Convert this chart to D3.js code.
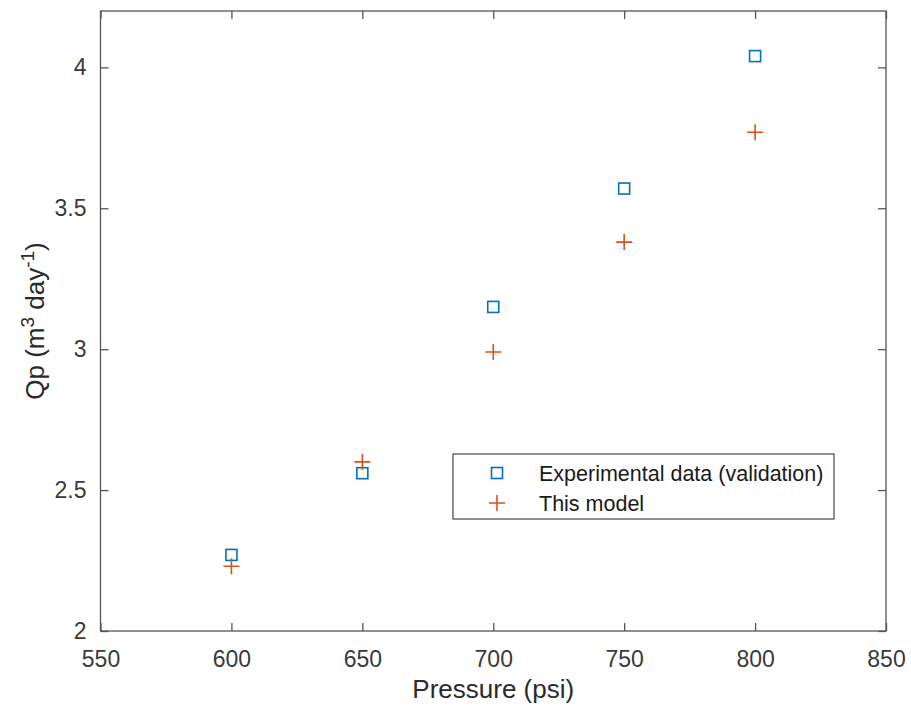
<!DOCTYPE html>
<html>
<head>
<meta charset="utf-8">
<script src="https://cdn.jsdelivr.net/npm/d3@7"></script>
<style>
  html, body { margin: 0; padding: 0; background: #fff; }
  svg { display: block; font-family: "Liberation Sans", Arial, sans-serif; }
</style>
</head>
<body>
<svg id="chart" width="911" height="706"></svg>
<script>
// Pressure (psi) vs. permeate flow Qp (m^3 day^-1)
const pressures = [600, 650, 700, 750, 800];
const experimental = [2.27, 2.56, 3.15, 3.57, 4.04];
const model = [2.23, 2.60, 2.99, 3.38, 3.77];
const xTicks = [550, 600, 650, 700, 750, 800, 850];
const yTicks = [2, 2.5, 3, 3.5, 4];
const seriesNames = ["Experimental data (validation)", "This model"];

const svg = d3.select("#chart");
const margin = { left: 100.5, right: 911 - 886, top: 11, bottom: 706 - 631 };
const W = 911, H = 706;

const x = d3.scaleLinear().domain([550, 850]).range([margin.left, W - margin.right]);
const y = d3.scaleLinear().domain([2, 4.2]).range([H - margin.bottom, margin.top]);

const axisColor = "#555";
const textColor = "#3a3a3a";
const blue = "#0072BD";
const orange = "#D95319";

// plot box
svg.append("rect")
  .attr("x", x(550)).attr("y", y(4.2))
  .attr("width", x(850) - x(550)).attr("height", y(2) - y(4.2))
  .attr("fill", "none").attr("stroke", axisColor).attr("stroke-width", 1.3);

const tickLen = 8;
const fmt = d => String(d);

// bottom axis, ticks pointing inward
svg.append("g").attr("transform", `translate(0,${y(2)})`)
  .call(d3.axisBottom(x).tickValues(xTicks).tickSize(-tickLen).tickPadding(tickLen + 12).tickFormat(fmt));
// top mirror ticks
svg.append("g").attr("transform", `translate(0,${y(4.2)})`)
  .call(d3.axisTop(x).tickValues(xTicks).tickSize(-tickLen).tickFormat(""));
// left axis
svg.append("g").attr("transform", `translate(${x(550)},0)`)
  .call(d3.axisLeft(y).tickValues(yTicks).tickSize(-tickLen).tickPadding(tickLen + 6).tickFormat(fmt));
// right mirror ticks
svg.append("g").attr("transform", `translate(${x(850)},0)`)
  .call(d3.axisRight(y).tickValues(yTicks).tickSize(-tickLen).tickFormat(""));

svg.selectAll(".domain").remove();
svg.selectAll(".tick line").attr("stroke", axisColor).attr("stroke-width", 1.3);
svg.selectAll(".tick text")
  .attr("fill", textColor)
  .style("font-size", "23px")
  .style("font-family", "'Liberation Sans', Arial, sans-serif");

// axis titles
svg.append("text")
  .attr("x", (x(550) + x(850)) / 2)
  .attr("y", 698)
  .attr("text-anchor", "middle")
  .attr("fill", "#2a2a2a")
  .style("font-size", "26px")
  .text("Pressure (psi)");

const yl = svg.append("text")
  .attr("transform", `translate(44,${(y(2) + y(4.2)) / 2}) rotate(-90)`)
  .attr("text-anchor", "middle")
  .attr("fill", "#2a2a2a")
  .style("font-size", "26px");
yl.append("tspan").text("Qp (m");
yl.append("tspan").attr("dy", -10).style("font-size", "19px").text("3");
yl.append("tspan").attr("dy", 10).text(" day");
yl.append("tspan").attr("dy", -10).style("font-size", "19px").text("-1");
yl.append("tspan").attr("dy", 10).text(")");

// markers
const sq = 11;
svg.append("g").selectAll("rect")
  .data(pressures.map((p, i) => [p, experimental[i]]))
  .join("rect")
  .attr("x", d => x(d[0]) - sq / 2)
  .attr("y", d => y(d[1]) - sq / 2)
  .attr("width", sq).attr("height", sq)
  .attr("fill", "none").attr("stroke", blue).attr("stroke-width", 1.6);

const pl = 8;
svg.append("g").selectAll("path")
  .data(pressures.map((p, i) => [p, model[i]]))
  .join("path")
  .attr("d", d => {
    const cx = x(d[0]), cy = y(d[1]);
    return `M${cx - pl},${cy}H${cx + pl}M${cx},${cy - pl}V${cy + pl}`;
  })
  .attr("fill", "none").attr("stroke", orange).attr("stroke-width", 1.6);

// legend
const lg = svg.append("g");
lg.append("rect")
  .attr("x", 453).attr("y", 454).attr("width", 381).attr("height", 65)
  .attr("fill", "#fff").attr("stroke", axisColor).attr("stroke-width", 1.3);
const rows = [473, 503];
lg.append("rect")
  .attr("x", 497 - sq / 2).attr("y", rows[0] - sq / 2)
  .attr("width", sq).attr("height", sq)
  .attr("fill", "none").attr("stroke", blue).attr("stroke-width", 1.6);
lg.append("path")
  .attr("d", `M${497 - pl},${rows[1]}H${497 + pl}M497,${rows[1] - pl}V${rows[1] + pl}`)
  .attr("fill", "none").attr("stroke", orange).attr("stroke-width", 1.6);
seriesNames.forEach((name, i) => {
  lg.append("text")
    .attr("x", 539).attr("y", rows[i])
    .attr("dy", "0.35em")
    .attr("fill", "#1a1a1a")
    .style("font-size", "21.5px")
    .text(name);
});
</script>
</body>
</html>
